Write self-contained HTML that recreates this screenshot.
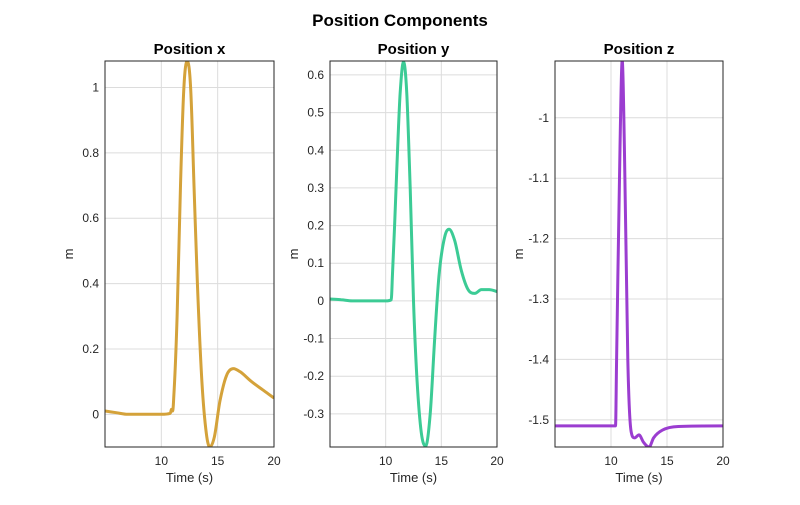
<!DOCTYPE html>
<html><head><meta charset="utf-8"><style>
body{margin:0;background:#fff;font-family:"Liberation Sans",sans-serif}
svg text{font-family:"Liberation Sans",sans-serif}
</style></head><body>
<svg id="chart" width="800" height="500" viewBox="0 0 800 500">
<rect width="800" height="500" fill="#fff"/>
<text x="400" y="26" text-anchor="middle" font-size="17" font-weight="bold" fill="#000">Position Components</text>
</svg>
<script>
const xT=[5,6,7,8,9,10,10.8,10.9,11,11.1,11.4,11.7,12,12.3,12.6,12.9,13.2,13.6,14,14.3,14.7,15.2,15.8,16.4,17,18,19,20];
const xV=[0.01,0.005,0,0,0,0,0.003,0.015,0.01,0.05,0.3,0.7,1.0,1.08,1.0,0.7,0.4,0.1,-0.06,-0.1,-0.07,0.04,0.12,0.14,0.13,0.1,0.075,0.05];
const yT=[5,6,7,8,9,10,10.5,10.6,10.8,11,11.3,11.6,11.9,12.2,12.5,12.8,13.2,13.6,14,14.4,14.8,15.3,15.7,16.2,16.8,17.4,18,18.6,19.3,20];
const yV=[0.005,0.003,0,0,0,0,0.003,0.06,0.2,0.35,0.55,0.635,0.55,0.3,0,-0.2,-0.35,-0.385,-0.3,-0.1,0.07,0.17,0.19,0.16,0.08,0.03,0.02,0.03,0.03,0.025];
const zT=[5,10.4,10.5,10.8,11,11.2,11.5,11.8,12.1,12.5,12.9,13.4,13.8,14.6,16,20];
const zV=[-1.51,-1.51,-1.4,-1.05,-0.905,-1.05,-1.4,-1.52,-1.53,-1.525,-1.537,-1.545,-1.53,-1.517,-1.511,-1.51];
const xTicks=[10,15,20];
const panels=[
 {name:'x',title:'Position x',L:105,R:274,ymin:-0.1,ymax:1.081,ticks:[0,0.2,0.4,0.6,0.8,1],labels:['0','0.2','0.4','0.6','0.8','1'],t:xT,v:xV,color:'#D4A23A'},
 {name:'y',title:'Position y',L:330,R:497,ymin:-0.388,ymax:0.637,ticks:[-0.3,-0.2,-0.1,0,0.1,0.2,0.3,0.4,0.5,0.6],labels:['-0.3','-0.2','-0.1','0','0.1','0.2','0.3','0.4','0.5','0.6'],t:yT,v:yV,color:'#3CCB95'},
 {name:'z',title:'Position z',L:555,R:723,ymin:-1.545,ymax:-0.906,ticks:[-1.5,-1.4,-1.3,-1.2,-1.1,-1],labels:['-1.5','-1.4','-1.3','-1.2','-1.1','-1'],t:zT,v:zV,color:'#9B3DD0'}
];
const svg=document.getElementById('chart');const NS='http://www.w3.org/2000/svg';
function mk(tag,attrs,parent){const e=document.createElementNS(NS,tag);for(const k in attrs)e.setAttribute(k,attrs[k]);(parent||svg).appendChild(e);return e;}
function smoothPath(P){
 const n=P.length;if(n<2)return '';
 const dx=[],dy=[],m=[],s=[];
 for(let i=0;i<n-1;i++){dx[i]=P[i+1][0]-P[i][0];dy[i]=P[i+1][1]-P[i][1];s[i]=dy[i]/dx[i];}
 m[0]=s[0];m[n-1]=s[n-2];
 for(let i=1;i<n-1;i++){m[i]=(s[i-1]*s[i]<=0)?0:(s[i-1]+s[i])/2;}
 for(let i=0;i<n-1;i++){if(s[i]===0){m[i]=0;m[i+1]=0;continue;}const a=m[i]/s[i],b=m[i+1]/s[i],h=a*a+b*b;if(h>9){const t=3/Math.sqrt(h);m[i]=t*a*s[i];m[i+1]=t*b*s[i];}}
 let d='M'+P[0][0].toFixed(1)+','+P[0][1].toFixed(1);
 for(let i=0;i<n-1;i++){const h=dx[i]/3;
  d+='C'+(P[i][0]+h).toFixed(1)+','+(P[i][1]+m[i]*h).toFixed(1)+' '+(P[i+1][0]-h).toFixed(1)+','+(P[i+1][1]-m[i+1]*h).toFixed(1)+' '+P[i+1][0].toFixed(1)+','+P[i+1][1].toFixed(1);}
 return d;
}
const T=61,B=447;
panels.forEach(p=>{
 const g=mk('g',{});
 
 
 const sx=t=>p.L+(t-5)/15*(p.R-p.L);
 const sy=v=>B-(v-p.ymin)/(p.ymax-p.ymin)*(B-T);
 mk('rect',{x:p.L,y:T,width:p.R-p.L,height:B-T,fill:'#fff'},g);
 xTicks.forEach(t=>{
  const l=mk('line',{x1:sx(t),x2:sx(t),y1:T,y2:B,stroke:'#dcdcdc','stroke-width':1},g);
  
  
  const tx=mk('text',{x:sx(t),y:B+18,'text-anchor':'middle','font-size':12,fill:'#262626'},g);tx.textContent=t;
  
  
 });
 p.ticks.forEach((v,i)=>{
  const l=mk('line',{x1:p.L,x2:p.R,y1:sy(v),y2:sy(v),stroke:'#dcdcdc','stroke-width':1},g);
  
  
  const tx=mk('text',{x:p.L-6,y:sy(v)+4,'text-anchor':'end','font-size':12,fill:'#262626'},g);tx.textContent=p.labels[i];
  
  
 });
 const pts=p.t.map((t,i)=>[sx(t),sy(p.v[i])]);
 const cp=mk('clipPath',{id:'c'+p.name},g);mk('rect',{x:p.L,y:T,width:p.R-p.L,height:B-T},cp);
 const path=mk('path',{d:smoothPath(pts),fill:'none',stroke:p.color,'stroke-width':3,'stroke-linejoin':'round','clip-path':'url(#c'+p.name+')'},g);
 
 
 mk('rect',{x:p.L,y:T,width:p.R-p.L,height:B-T,fill:'none',stroke:'#262626','stroke-width':1},g);
 const tt=mk('text',{x:(p.L+p.R)/2,y:T-7,'text-anchor':'middle','font-size':15,'font-weight':'bold',fill:'#000'},g);tt.textContent=p.title;
 
 
 const xl=mk('text',{x:(p.L+p.R)/2,y:B+35,'text-anchor':'middle','font-size':13,fill:'#262626'},g);xl.textContent='Time (s)';
 
 
 const yx=p.L-32,yy=(T+B)/2;
 const yl=mk('text',{x:yx,y:yy,'text-anchor':'middle','font-size':13,fill:'#262626',transform:'rotate(-90 '+yx+' '+yy+')'},g);yl.textContent='m';
 
 
});
</script>
</body></html>
